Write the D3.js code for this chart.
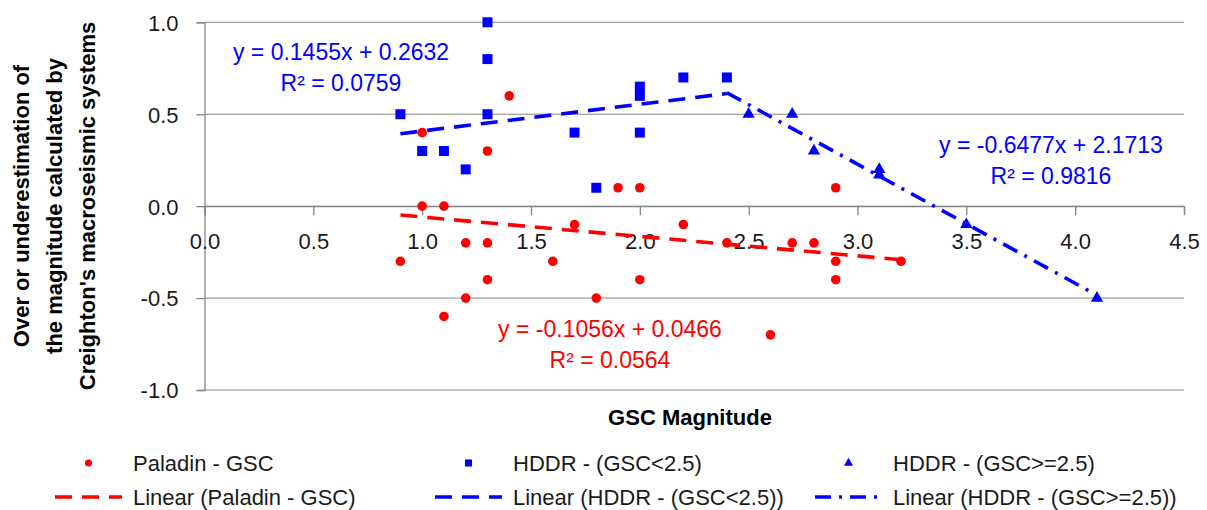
<!DOCTYPE html>
<html>
<head>
<meta charset="utf-8">
<script src="https://d3js.org/d3.v7.min.js"></script>
<style>
  body { margin: 0; background: #fff; }
  text { font-family: 'Liberation Sans', Arial, sans-serif; }
</style>
</head>
<body>
<div id="container"></div>
<script>
// points: [GSC magnitude, over/under estimation]
const paladin = [
  [0.9, -0.3], [1.0, 0.4], [1.0, 0.0], [1.1, 0.0], [1.1, -0.6],
  [1.2, -0.2], [1.2, -0.5], [1.3, 0.3], [1.3, -0.2], [1.3, -0.4],
  [1.4, 0.6], [1.6, -0.3], [1.7, -0.1], [1.8, -0.5], [1.9, 0.1],
  [2.0, 0.1], [2.0, -0.4], [2.2, -0.1], [2.4, -0.2], [2.6, -0.7],
  [2.7, -0.2], [2.8, -0.2], [2.9, 0.1], [2.9, -0.3], [2.9, -0.4],
  [3.2, -0.3]
];
const hddrLow = [
  [0.9, 0.5], [1.0, 0.3], [1.1, 0.3], [1.2, 0.2], [1.3, 1.0],
  [1.3, 0.8], [1.3, 0.5], [1.7, 0.4], [1.8, 0.1], [2.0, 0.65],
  [2.0, 0.6], [2.0, 0.4], [2.2, 0.7], [2.4, 0.7]
];
const hddrHigh = [
  [2.5, 0.5], [2.7, 0.5], [2.8, 0.3], [3.1, 0.2], [3.1, 0.17],
  [3.5, -0.1], [4.1, -0.5]
];

// Excel linear trendlines: slope, intercept, R², x range drawn
const trendSlopes = [-0.1056, 0.1455, -0.6477];
const trendIntercepts = [0.0466, 0.2632, 2.1713];
const trendR2 = ['0.0564', '0.0759', '0.9816'];
const trendRanges = [[0.9, 3.2], [0.9, 2.4], [2.4, 4.1]];

const seriesNames = ['Paladin - GSC', 'HDDR - (GSC<2.5)', 'HDDR - (GSC>=2.5)'];
const xTicks = [0, 0.5, 1, 1.5, 2, 2.5, 3, 3.5, 4, 4.5];
const yTicks = [-1, -0.5, 0, 0.5, 1];

const width = 1207, height = 510;
const red = '#ff0000', blue = '#0000ff', grid = '#868686';

const svg = d3.select('#container').append('svg')
  .attr('width', width)
  .attr('height', height);

const x = d3.scaleLinear().domain([0, 4.5]).range([204.5, 1184]);
const y = d3.scaleLinear().domain([-1, 1]).range([390, 22.3]);

// horizontal gridlines
svg.append('g')
  .selectAll('line')
  .data(yTicks)
  .join('line')
  .attr('x1', x(0)).attr('x2', x(4.5))
  .attr('y1', d => y(d)).attr('y2', d => y(d))
  .attr('stroke', grid)
  .attr('stroke-width', 1);

// plain hyphen for negatives, like Excel
const fmt = d => d.toFixed(1);

const yAxis = svg.append('g')
  .attr('transform', `translate(${x(0)},0)`)
  .call(d3.axisLeft(y).tickValues(yTicks).tickFormat(fmt).tickSize(8).tickPadding(18));

const xAxis = svg.append('g')
  .attr('transform', `translate(0,${y(0)})`)
  .call(d3.axisBottom(x).tickValues(xTicks).tickFormat(fmt).tickSize(9).tickPadding(18));

[xAxis, yAxis].forEach(g => {
  g.select('.domain').attr('stroke', grid).attr('stroke-width', 1.3);
  g.selectAll('.tick line').attr('stroke', grid).attr('stroke-width', 1.3);
  g.selectAll('.tick text')
    .attr('fill', '#1a1a1a')
    .style('font-size', '22px')
    .style('font-family', "'Liberation Sans', Arial, sans-serif");
});
yAxis.selectAll('.tick text').attr('dy', '0.36em');

// markers
const square = d3.symbol().type(d3.symbolSquare).size(100);
const triangle = d3.symbol().type(d3.symbolTriangle).size(66);

svg.append('g')
  .selectAll('circle')
  .data(paladin)
  .join('circle')
  .attr('cx', d => x(d[0]))
  .attr('cy', d => y(d[1]))
  .attr('r', 4.8)
  .attr('fill', red);

svg.append('g')
  .selectAll('path')
  .data(hddrLow)
  .join('path')
  .attr('d', square)
  .attr('transform', d => `translate(${x(d[0])},${y(d[1])})`)
  .attr('fill', blue);

svg.append('g')
  .selectAll('path')
  .data(hddrHigh)
  .join('path')
  .attr('d', triangle)
  .attr('transform', d => `translate(${x(d[0])},${y(d[1])})`)
  .attr('fill', blue);

// trendlines
const trendColors = [red, blue, blue];
const trendDash = ['17,10', '17,10', '16,8,3,8'];

trendSlopes.forEach((m, i) => {
  const b = trendIntercepts[i];
  const [x0, x1] = trendRanges[i];
  svg.append('line')
    .attr('x1', x(x0)).attr('y1', y(m * x0 + b))
    .attr('x2', x(x1)).attr('y2', y(m * x1 + b))
    .attr('stroke', trendColors[i])
    .attr('stroke-width', 3.6)
    .attr('stroke-dasharray', trendDash[i]);
});

// trendline equations
const labelPos = [[610, 337], [341, 60], [1051, 153]];
trendSlopes.forEach((m, i) => {
  const b = trendIntercepts[i];
  const g = svg.append('g')
    .attr('fill', trendColors[i])
    .attr('text-anchor', 'middle')
    .style('font-size', '23px');
  g.append('text')
    .attr('x', labelPos[i][0]).attr('y', labelPos[i][1])
    .text(`y = ${m}x + ${b}`);
  g.append('text')
    .attr('x', labelPos[i][0]).attr('y', labelPos[i][1] + 31)
    .text(`R² = ${trendR2[i]}`);
});

// axis titles
svg.append('text')
  .attr('x', 690).attr('y', 425)
  .attr('text-anchor', 'middle')
  .style('font-size', '22px')
  .style('font-weight', 'bold')
  .text('GSC Magnitude');

const yTitle = ['Over or underestimation of', 'the magnitude calculated by', "Creighton's macroseismic systems"];
svg.append('g')
  .selectAll('text')
  .data(yTitle)
  .join('text')
  .attr('transform', (d, i) => `translate(${21 + i * 33},206) rotate(-90)`)
  .attr('text-anchor', 'middle')
  .attr('dominant-baseline', 'central')
  .style('font-size', '22px')
  .style('font-weight', 'bold')
  .attr('fill', '#000')
  .text(d => d);

// legend
const keyX = [55, 435, 815];
const rowY = [463, 497];
const keyW = 67;

const leg = svg.append('g');
seriesNames.forEach((name, i) => {
  const cx = keyX[i] + keyW / 2;
  if (i === 0) {
    leg.append('circle').attr('cx', cx).attr('cy', rowY[0]).attr('r', 3.6).attr('fill', red);
  } else if (i === 1) {
    leg.append('path').attr('d', d3.symbol().type(d3.symbolSquare).size(50))
      .attr('transform', `translate(${cx},${rowY[0]})`).attr('fill', blue);
  } else {
    leg.append('path').attr('d', d3.symbol().type(d3.symbolTriangle).size(36))
      .attr('transform', `translate(${cx},${rowY[0]})`).attr('fill', blue);
  }
  leg.append('text')
    .attr('x', keyX[i] + 78).attr('y', rowY[0])
    .attr('dominant-baseline', 'central')
    .style('font-size', '22px')
    .attr('fill', '#1a1a1a')
    .text(name);

  leg.append('line')
    .attr('x1', keyX[i]).attr('x2', keyX[i] + keyW)
    .attr('y1', rowY[1]).attr('y2', rowY[1])
    .attr('stroke', trendColors[i])
    .attr('stroke-width', 3.6)
    .attr('stroke-dasharray', trendDash[i]);
  leg.append('text')
    .attr('x', keyX[i] + 78).attr('y', rowY[1])
    .attr('dominant-baseline', 'central')
    .style('font-size', '22px')
    .attr('fill', '#1a1a1a')
    .text(`Linear (${name})`);
});
</script>
</body>
</html>
